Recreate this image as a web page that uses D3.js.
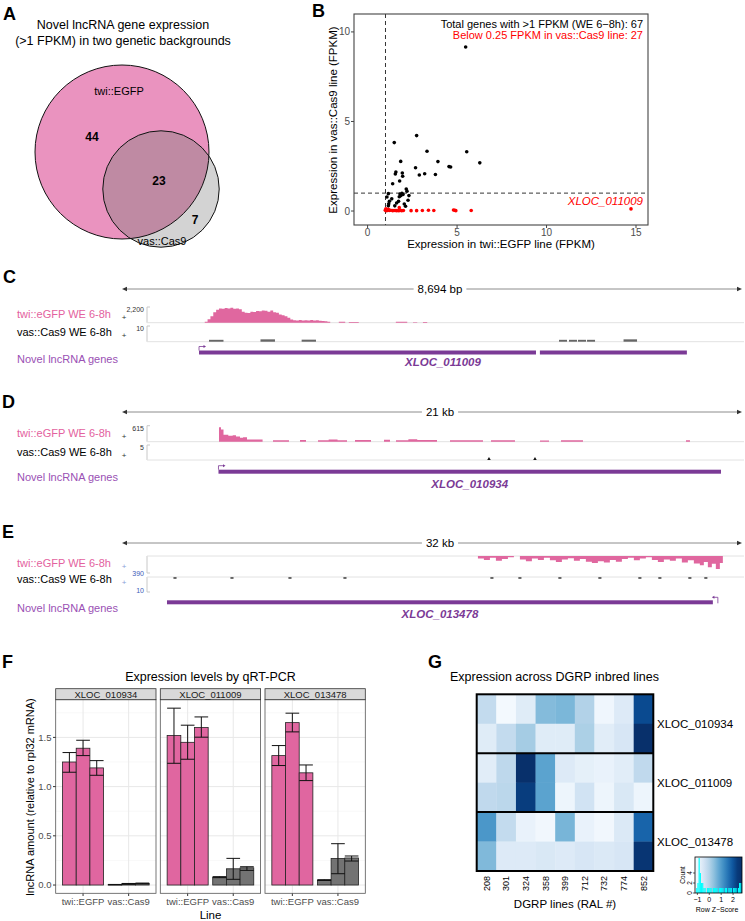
<!DOCTYPE html>
<html><head><meta charset="utf-8">
<script src="https://cdn.jsdelivr.net/npm/d3@7/dist/d3.min.js"></script>
<style>
html,body{margin:0;padding:0;background:#fff;}
svg{display:block;font-family:"Liberation Sans",Arial,Helvetica,sans-serif;}
</style></head><body>
<svg id="fig" width="745" height="921" xmlns="http://www.w3.org/2000/svg"></svg>
<script>
// ================= DATA =================
// A: Venn diagram
const vennLabels = ["twi::EGFP", "vas::Cas9"];
const vennOnlyTwi = 44, vennBoth = 23, vennOnlyVas = 7;
const vennTitle = ["Novel lncRNA gene expression", "(>1 FPKM) in two genetic backgrounds"];

// B: scatter (FPKM)
const blackX = [5.48,2.74,1.49,3.32,5.54,6.27,3.93,1.85,4.55,4.64,2.68,1.58,1.55,1.94,1.96,2.89,3.19,3.79,1.79,1.40,2.16,2.20,1.16,1.35,1.08,1.81,1.86,1.92,1.77,2.31,1.73,2.26,1.18,1.16,2.05,2.12,1.52,1.98,1.22,1.62];
const blackY = [9.16,4.21,3.82,3.34,3.31,2.69,2.76,2.77,2.48,2.46,2.42,2.18,2.07,2.12,1.94,2.01,2.08,2.04,1.68,1.52,1.23,1.11,0.97,0.68,0.78,0.95,0.86,0.99,0.80,0.86,0.54,0.60,0.41,0.29,0.39,0.27,0.29,0.92,0.55,0.45];
const redX = [0.99,1.02,1.04,1.07,1.10,1.16,1.21,1.29,1.40,1.48,1.55,1.63,1.74,1.77,1.81,1.91,2.00,2.43,2.74,3.06,3.40,3.70,4.80,4.87,4.93,5.79,14.72];
const redY = [0.05,0.12,0.02,0.08,0.03,0.10,0.03,0.04,0.02,0.03,0.03,0.02,0.02,0.19,0.03,0.02,0.03,0.02,0.02,0.03,0.04,0.03,0.06,0.04,0.02,0.03,0.12];
const bAnnot = ["Total genes with >1 FPKM (WE 6\u22128h): 67", "Below 0.25 FPKM in vas::Cas9 line: 27"];
const bHighlight = "XLOC_011009";
const bXTicks = [0, 5, 10, 15];
const bYTicks = [0, 5, 10];
const bThreshold = 1;
const bXTitle = "Expression in twi::EGFP line (FPKM)";
const bYTitle = "Expression in vas::Cas9 line (FPKM)";

// Track labels
const trackNames = ["twi::eGFP WE 6-8h", "vas::Cas9 WE 6-8h", "Novel lncRNA genes"];

// C: XLOC_011009 locus
const cSpan = 8694, cSpanLabel = "8,694 bp";
const cTwiMax = 2200, cVasMax = 10, cTwiMaxLabel = "2,200", cVasMaxLabel = "10";
const cTwiPos = [1120,1160,1200,1240,1280,1320,1360,1400,1440,1480,1520,1560,1600,1640,1680,1720,1760,1800,1840,1880,1920,1960,2000,2040,2080,2120,2160,2200,2240,2280,2320,2360,2400,2440,2480,2520,2560,2600,2640,2680,2720,2760,2800,2840,2880,2920,3040,3130,3180,3320,3840,4000,4080,4140,4220,4280];
const cTwiVal = [0,150,500,900,1450,1800,2000,1950,2050,1980,2080,1950,2000,1900,1550,1400,1350,1550,1500,1650,1600,1700,1680,1550,1700,1450,1400,1150,1050,900,700,450,350,300,380,300,350,320,380,300,330,280,250,200,120,0,150,0,100,0,150,0,80,0,90,0];
const cVasStart = [1220,1942,2519,6128,6268,6394,6521,7033];
const cVasEnd   = [1423,2145,2720,6240,6380,6507,6633,7222];
const cVasVal   = [1.2,1.5,1.3,1.2,1.2,1.2,1.2,1.5];
const cExons = [[1080,5805],[5860,7921]];
const cGene = "XLOC_011009";

// D: XLOC_010934 locus
const dSpan = 21000, dSpanLabel = "21 kb";
const dTwiMax = 615, dVasMax = 5, dTwiMaxLabel = "615", dVasMaxLabel = "5";
const dTwiPos = [3260,3285,3353,3438,3600,3750,3861,3997,4100,4234,4762,5114,5656,6029,6232,6639,7000,7300,7621,7892,8434,8874,9077,9280,9700,10000,10669,11109,12227,12498,13311,14158,14463,14869,15614,19103,19238];
const dTwiVal = [0,560,470,270,230,250,200,150,170,80,0,60,0,65,0,60,80,55,0,65,0,75,0,60,90,65,0,55,0,60,0,50,0,55,0,55,0];
const dVasPos = [12430,13988];
const dVasVal = [1,1];
const dExons = [[3268,20288]];
const dGene = "XLOC_010934";

// E: XLOC_013478 locus (minus strand)
const eSpan = 32000, eSpanLabel = "32 kb";
const eTwiMax = 390, eVasMax = 10, eTwiMaxLabel = "390", eVasMaxLabel = "10";
const eTwiPos = [18370,18679,18989,19298,19608,19918,20227,20537,20846,21156,21466,21775,22085,22394,22704,23014,23323,23633,23942,24252,24562,24871,25181,25490,25800,26110,26419,26729,27038,27348,27658,27967,28277,28586,28896,29206,29515,29825,30031,30238,30444,30650,30857,31012];
const eTwiVal = [60,90,40,110,70,30,0,80,120,60,90,40,100,140,80,50,110,70,130,160,120,150,90,130,70,40,100,60,30,90,140,80,110,60,150,100,170,210,140,260,180,300,160,0];
const eVasPos = [2735,5676,8669,11507,19092,20537,22601,24665,26729,27761,29309,30134];
const eVasVal = [1.3,1.3,1.3,1.3,1.3,1.3,1.3,1.3,1.3,1.3,1.3,1.3];
const eExons = [[2322,30496]];
const eGene = "XLOC_013478";

// F: qRT-PCR
const qGenes = ["XLOC_010934", "XLOC_011009", "XLOC_013478"];
const qLines = ["twi::EGFP", "vas::Cas9"];
const qMean = [
  [[1.25,1.39,1.19],[0.004,0.012,0.016]],
  [[1.52,1.45,1.60],[0.08,0.165,0.175]],
  [[1.315,1.65,1.14],[0.05,0.27,0.275]]
];
const qLow = [
  [[1.146,1.315,1.115],[0.002,0.008,0.012]],
  [[1.237,1.278,1.502],[0.075,0.058,0.149]],
  [[1.214,1.556,1.061],[0.046,0.115,0.244]]
];
const qHigh = [
  [[1.346,1.471,1.264],[0.006,0.016,0.020]],
  [[1.797,1.624,1.708],[0.085,0.271,0.186]],
  [[1.417,1.746,1.220],[0.054,0.420,0.295]]
];
const fYTicks = [0, 0.5, 1.0, 1.5];
const fYTickLabels = ["0.0", "0.5", "1.0", "1.5"];
const fYMinor = [0.25, 0.75, 1.25, 1.75];
const fTitle = "Expression levels by qRT-PCR";
const fXTitle = "Line";
const fYTitle = "lncRNA amount (relative to rpl32 mRNA)";

// G: heatmap (row z-scores)
const gLines = ["208","301","324","358","399","712","732","774","852"];
const gGenes = ["XLOC_010934","XLOC_011009","XLOC_013478"];
const gZ = [
  [-0.20,-1.03,-0.67, 0.48, 0.56, 0.02,-0.96,-0.63, 2.14],
  [-0.67,-0.20, 0.16,-0.67,-0.67, 0.09,-0.70,-0.52, 2.50],
  [-0.70,-0.13, 2.50, 0.88,-0.63,-0.78,-0.85,-0.70,-0.16],
  [-0.16,-0.09, 2.32, 0.88,-0.92,-0.42,-0.92,-0.56,-0.92],
  [ 1.06,-0.20,-0.85,-0.99, 0.59,-0.85,-0.99,-0.60, 1.78],
  [ 0.52,-0.63,-0.63,-0.56,-0.63,-0.52,-0.60,-0.52, 2.43]
];
const gTitle = "Expression across DGRP inbred lines";
const gXTitle = "DGRP lines (RAL #)";
const keyHistX0 = [-1.2,-1.1,-1.0,-0.9,-0.8,-0.7,-0.6,-0.5,-0.4,-0.3,-0.2,-0.1,0.0,0.1,0.2,0.3,0.4,0.5,0.6,0.7,0.8,0.9,1.0,1.1,1.2,1.3,1.4,1.5,1.6,1.7,1.8,1.9,2.0,2.1,2.2,2.3,2.4,2.5,2.6];
const keyHistCount = [0,1,2,7,4,2,2,1,1,0,1,1,1,1,0,1,1,1,1,0,1,1,1,1,0,1,1,0,1,1,1,0,1,1,1,0,1,2,2];
const keyXTicks = [-1, 0, 1, 2];
const keyYTicks = [0, 2, 4];

// ================= DRAWING =================
const svg = d3.select("#fig");
function txt(g, x, y, s, o = {}) {
  const t = g.append("text").attr("x", x).attr("y", y).text(s)
    .attr("font-size", o.size || 11).attr("fill", o.fill || "#000")
    .attr("text-anchor", o.anchor || "start");
  if (o.weight) t.attr("font-weight", o.weight);
  if (o.style) t.attr("font-style", o.style);
  if (o.rotate != null) t.attr("transform", `rotate(${o.rotate},${x},${y})`);
  return t;
}
// panel letters
[["A",3,20],["B",312,17],["C",3,283],["D",2,408],["E",2,538],["F",2,668],["G",428,668]]
  .forEach(([l,x,y]) => txt(svg, x, y, l, {size: 18, weight: "bold"}));

// ---------- A ----------
{
  const g = svg.append("g");
  txt(g, 123, 29, vennTitle[0], {size: 12.5, anchor: "middle"});
  txt(g, 123, 45, vennTitle[1], {size: 12.5, anchor: "middle"});
  const totTwi = vennOnlyTwi + vennBoth, totVas = vennOnlyVas + vennBoth;
  const r = d3.scaleSqrt().domain([0, totTwi]).range([0, 87]);
  const cA = {x: 122, y: 152, r: r(totTwi)}, cB = {x: 161, y: 189, r: r(totVas)};
  svg.append("defs").append("clipPath").attr("id", "clipA")
    .append("circle").attr("cx", cA.x).attr("cy", cA.y).attr("r", cA.r);
  g.append("circle").attr("cx", cA.x).attr("cy", cA.y).attr("r", cA.r).attr("fill", "#ea93bf");
  g.append("circle").attr("cx", cB.x).attr("cy", cB.y).attr("r", cB.r).attr("fill", "#d3d3d3");
  g.append("circle").attr("cx", cB.x).attr("cy", cB.y).attr("r", cB.r).attr("fill", "#bf8aa3").attr("clip-path", "url(#clipA)");
  [cA, cB].forEach(c => g.append("circle").attr("cx", c.x).attr("cy", c.y).attr("r", c.r)
    .attr("fill", "none").attr("stroke", "#111").attr("stroke-width", 1));
  txt(g, 119, 95, vennLabels[0], {size: 11, anchor: "middle"});
  txt(g, 162, 245, vennLabels[1], {size: 11, anchor: "middle"});
  txt(g, 92, 141, vennOnlyTwi, {size: 12, anchor: "middle", weight: "bold"});
  txt(g, 159, 185, vennBoth, {size: 12, anchor: "middle", weight: "bold"});
  txt(g, 195, 224, vennOnlyVas, {size: 12, anchor: "middle", weight: "bold"});
}

// ---------- B ----------
{
  const g = svg.append("g");
  const x = d3.scaleLinear().domain([-0.76, 15.67]).range([354, 648]);
  const y = d3.scaleLinear().domain([-0.78, 11.0]).range([225, 14]);
  const dash = "4,3";
  g.append("line").attr("x1", x(bThreshold)).attr("x2", x(bThreshold)).attr("y1", 14).attr("y2", 225)
    .attr("stroke", "#000").attr("stroke-width", 0.8).attr("stroke-dasharray", dash);
  g.append("line").attr("x1", 354).attr("x2", 648).attr("y1", y(bThreshold)).attr("y2", y(bThreshold))
    .attr("stroke", "#000").attr("stroke-width", 0.8).attr("stroke-dasharray", dash);
  g.selectAll(".bk").data(blackX.map((v, i) => [v, blackY[i]])).join("circle")
    .attr("cx", d => x(d[0])).attr("cy", d => y(d[1])).attr("r", 1.8).attr("fill", "#000");
  g.selectAll(".rd").data(redX.map((v, i) => [v, redY[i]])).join("circle")
    .attr("cx", d => x(d[0])).attr("cy", d => y(d[1])).attr("r", 1.8).attr("fill", "#ff0000");
  g.append("rect").attr("x", 354).attr("y", 14).attr("width", 294).attr("height", 211)
    .attr("fill", "none").attr("stroke", "#444").attr("stroke-width", 1.1);
  bXTicks.forEach(t => {
    g.append("line").attr("x1", x(t)).attr("x2", x(t)).attr("y1", 225).attr("y2", 228).attr("stroke", "#444");
    txt(g, x(t), 236, t, {size: 10, anchor: "middle", fill: "#4d4d4d"});
  });
  bYTicks.forEach(t => {
    g.append("line").attr("x1", 351).attr("x2", 354).attr("y1", y(t)).attr("y2", y(t)).attr("stroke", "#444");
    txt(g, 350, y(t) + 3.5, t, {size: 10, anchor: "end", fill: "#4d4d4d"});
  });
  txt(g, 643, 28, bAnnot[0], {size: 11, anchor: "end"});
  txt(g, 643, 39, bAnnot[1], {size: 11, anchor: "end", fill: "#ff0000"});
  txt(g, 643, 205, bHighlight, {size: 11.5, anchor: "end", fill: "#ff0000", style: "italic"});
  txt(g, 501, 248, bXTitle, {size: 11.5, anchor: "middle"});
  txt(g, 337, 120, bYTitle, {size: 11.5, anchor: "middle", rotate: -90});
}

// ---------- Genome tracks C, D, E ----------
const PINK_TXT = "#e3619e", PINK = "#e0679f", PURPLE = "#7b3a96", PURPLE_TXT = "#9a50b4";
function scaleBar(xs, span, y, label) {
  const g = svg.append("g");
  const x0 = xs(0), x1 = xs(span), cx = 440;
  const t = txt(g, cx, y + 4, label, {size: 11.5, anchor: "middle"});
  const w = t.node().getComputedTextLength();
  g.append("line").attr("x1", x0 + 3).attr("x2", cx - w / 2 - 4).attr("y1", y).attr("y2", y).attr("stroke", "#8c8c8c");
  g.append("line").attr("x1", cx + w / 2 + 4).attr("x2", x1 - 3).attr("y1", y).attr("y2", y).attr("stroke", "#8c8c8c");
  g.append("path").attr("d", `M${x0},${y} l5,-2.2 v4.4 z`).attr("fill", "#333");
  g.append("path").attr("d", `M${x1},${y} l-5,-2.2 v4.4 z`).attr("fill", "#333");
}
function trackFrame(top, bottom, invert, name, nameColor, nameY, rangeLabel, rangeY, rangeColor, plusColor) {
  const g = svg.append("g");
  txt(g, 17, nameY, name, {size: 11, fill: nameColor});
  txt(g, 124, nameY + 2, "+", {size: 8, anchor: "middle", fill: plusColor || "#333"});
  txt(g, 144, rangeY, rangeLabel, {size: 7, anchor: "end", fill: rangeColor || "#333"});
  g.append("line").attr("x1", 147).attr("x2", 147).attr("y1", top).attr("y2", bottom).attr("stroke", "#c8c8c8");
  const base = invert ? top : bottom;
  g.append("line").attr("x1", 147).attr("x2", 744).attr("y1", base).attr("y2", base).attr("stroke", "#e2e2e2");
  const edge = invert ? bottom : top;
  g.append("line").attr("x1", 147).attr("x2", 150).attr("y1", edge).attr("y2", edge).attr("stroke", "#c8c8c8");
}
function coverage(xs, pos, val, max, top, bottom, invert, color) {
  const ys = d3.scaleLinear().domain([0, max]).range(invert ? [top, bottom] : [bottom, top]);
  const base = invert ? top : bottom;
  const pts = pos.map((p, i) => [p, val[i]]);
  svg.append("path").datum(pts)
    .attr("d", d3.area().x(d => xs(d[0])).y0(base).y1(d => ys(d[1])).curve(d3.curveStepAfter))
    .attr("fill", color);
}
function geneModel(xs, exons, y, name, labelY, strand) {
  const g = svg.append("g");
  exons.forEach(e => g.append("rect").attr("x", xs(e[0])).attr("y", y - 2).attr("width", xs(e[1]) - xs(e[0]))
    .attr("height", 4).attr("fill", PURPLE));
  if (strand === "+") {
    const sx = xs(exons[0][0]);
    g.append("path").attr("d", `M${sx},${y - 2} V${y - 6} H${sx + 5}`).attr("fill", "none").attr("stroke", PURPLE).attr("stroke-width", 0.8);
    g.append("path").attr("d", `M${sx + 7},${y - 6} l-2.5,-1.5 v3 z`).attr("fill", PURPLE);
  } else {
    const ex = xs(exons[exons.length - 1][1]) + 5;
    g.append("path").attr("d", `M${ex},${y + 1} V${y - 5} H${ex - 4}`).attr("fill", "none").attr("stroke", PURPLE).attr("stroke-width", 0.8);
    g.append("path").attr("d", `M${ex - 6},${y - 5} l2.5,-1.5 v3 z`).attr("fill", PURPLE);
  }
  const mid = (xs(exons[0][0]) + xs(exons[exons.length - 1][1])) / 2;
  txt(g, mid, labelY, name, {size: 11.5, anchor: "middle", weight: "bold", style: "italic", fill: PURPLE});
}
// C
{
  const xs = d3.scaleLinear().domain([0, cSpan]).range([122, 742]);
  scaleBar(xs, cSpan, 289, cSpanLabel);
  trackFrame(307, 322.7, false, trackNames[0], PINK_TXT, 317.5, cTwiMaxLabel, 312, "#333");
  coverage(xs, cTwiPos, cTwiVal, cTwiMax, 307, 322.7, false, PINK);
  trackFrame(326, 341.7, false, trackNames[1], "#000", 336, cVasMaxLabel, 331, "#333");
  const ys = d3.scaleLinear().domain([0, cVasMax]).range([341.7, 326]);
  svg.selectAll(".cv").data(cVasStart.map((s, i) => [s, cVasEnd[i], cVasVal[i]])).join("rect")
    .attr("x", d => xs(d[0])).attr("width", d => xs(d[1]) - xs(d[0]))
    .attr("y", d => ys(d[2])).attr("height", d => 341.7 - ys(d[2])).attr("fill", "#666");
  txt(svg, 17, 362.5, trackNames[2], {size: 11, fill: PURPLE_TXT});
  geneModel(xs, cExons, 352.5, cGene, 366, "+");
}
// D
{
  const xs = d3.scaleLinear().domain([0, dSpan]).range([122, 742]);
  scaleBar(xs, dSpan, 412, dSpanLabel);
  trackFrame(425.7, 441.7, false, trackNames[0], PINK_TXT, 437.3, dTwiMaxLabel, 431, "#333");
  coverage(xs, dTwiPos, dTwiVal, dTwiMax, 425.7, 441.7, false, PINK);
  trackFrame(445, 460, false, trackNames[1], "#000", 455.7, dVasMaxLabel, 450, "#333");
  const ys = d3.scaleLinear().domain([0, dVasMax]).range([460, 445]);
  dVasPos.forEach((p, i) => {
    svg.append("path").datum([[p - 60, 0], [p, dVasVal[i]], [p + 60, 0]])
      .attr("d", d3.area().x(d => xs(d[0])).y0(460).y1(d => ys(d[1])))
      .attr("fill", "#111");
  });
  txt(svg, 17, 481.3, trackNames[2], {size: 11, fill: PURPLE_TXT});
  geneModel(xs, dExons, 471.7, dGene, 487.5, "+");
}
// E
{
  const xs = d3.scaleLinear().domain([0, eSpan]).range([122, 742]);
  scaleBar(xs, eSpan, 543, eSpanLabel);
  const BLUE = "#3d5cb8";
  trackFrame(556, 573, true, trackNames[0], PINK_TXT, 567, eTwiMaxLabel, 576, BLUE, "#8aa0d8");
  coverage(xs, eTwiPos, eTwiVal, eTwiMax, 556, 573, true, PINK);
  trackFrame(577, 592, true, trackNames[1], "#000", 583, eVasMaxLabel, 593, BLUE, "#8aa0d8");
  const ys = d3.scaleLinear().domain([0, eVasMax]).range([577, 592]);
  svg.selectAll(".ev").data(eVasPos.map((p, i) => [p, eVasVal[i]])).join("rect")
    .attr("x", d => xs(d[0] - 80)).attr("width", d => xs(d[0] + 80) - xs(d[0] - 80))
    .attr("y", 577).attr("height", d => ys(d[1]) - 577).attr("fill", "#666");
  txt(svg, 17, 611.7, trackNames[2], {size: 11, fill: PURPLE_TXT});
  geneModel(xs, eExons, 602.3, eGene, 617.5, "-");
}

// ---------- F ----------
{
  const g = svg.append("g");
  const y = d3.scaleLinear().domain([-0.084, 1.883]).range([893.3, 699.7]);
  const facetLeft = [55.7, 160.3, 265], facetW = 100.3;
  const colors = ["#e066a0", "#737373"];
  qGenes.forEach((gene, gi) => {
    const L = facetLeft[gi];
    const x = d3.scaleLinear().domain([0.4, 2.6]).range([L, L + facetW]);
    const bw = x(1.3) - x(1);
    fYMinor.forEach(t => g.append("line").attr("x1", L).attr("x2", L + facetW).attr("y1", y(t)).attr("y2", y(t)).attr("stroke", "#f3f3f3").attr("stroke-width", 0.6));
    fYTicks.forEach(t => g.append("line").attr("x1", L).attr("x2", L + facetW).attr("y1", y(t)).attr("y2", y(t)).attr("stroke", "#e8e8e8").attr("stroke-width", 1));
    qLines.forEach((ln, li) => {
      g.append("line").attr("x1", x(li + 1)).attr("x2", x(li + 1)).attr("y1", 699.7).attr("y2", 893.3).attr("stroke", "#e8e8e8").attr("stroke-width", 1);
    });
    qLines.forEach((ln, li) => {
      qMean[gi][li].forEach((m, ri) => {
        const cx = x(li + 1) + (ri - 1) * bw;
        g.append("rect").attr("x", cx - bw / 2).attr("width", bw).attr("y", y(m)).attr("height", y(0) - y(m))
          .attr("fill", colors[li]).attr("stroke", "#222").attr("stroke-width", 0.8);
      });
      qMean[gi][li].forEach((m, ri) => {
        const cx = x(li + 1) + (ri - 1) * bw;
        const lo = y(qLow[gi][li][ri]), hi = y(qHigh[gi][li][ri]);
        g.append("path").attr("d", `M${cx - bw / 2},${hi} H${cx + bw / 2} M${cx},${hi} V${lo} M${cx - bw / 2},${lo} H${cx + bw / 2}`)
          .attr("stroke", "#111").attr("stroke-width", 1).attr("fill", "none");
      });
      g.append("line").attr("x1", x(li + 1)).attr("x2", x(li + 1)).attr("y1", 893.3).attr("y2", 896).attr("stroke", "#333");
      txt(g, x(li + 1), 904.5, ln, {size: 9.5, anchor: "middle", fill: "#4d4d4d"});
    });
    g.append("rect").attr("x", L).attr("y", 699.7).attr("width", facetW).attr("height", 193.6)
      .attr("fill", "none").attr("stroke", "#555").attr("stroke-width", 0.8);
    g.append("rect").attr("x", L).attr("y", 688.7).attr("width", facetW).attr("height", 11)
      .attr("fill", "#d9d9d9").attr("stroke", "#333").attr("stroke-width", 0.8);
    txt(g, L + facetW / 2, 697.8, gene, {size: 9.5, anchor: "middle", fill: "#1a1a1a"});
  });
  fYTicks.forEach((t, i) => {
    g.append("line").attr("x1", 53).attr("x2", 55.7).attr("y1", y(t)).attr("y2", y(t)).attr("stroke", "#333");
    txt(g, 51.5, y(t) + 3.3, fYTickLabels[i], {size: 9.5, anchor: "end", fill: "#4d4d4d"});
  });
  txt(g, 210.5, 681, fTitle, {size: 12.5, anchor: "middle"});
  txt(g, 210.5, 919, fXTitle, {size: 11.5, anchor: "middle"});
  txt(g, 34, 797, fYTitle, {size: 11, anchor: "middle", rotate: -90});
}

// ---------- G ----------
{
  const g = svg.append("g");
  const x0 = 476.7, x1 = 653.3, y0 = 694.3, y1 = 871;
  const x = d3.scaleBand().domain(gLines).range([x0, x1]);
  const y = d3.scaleBand().domain(d3.range(gZ.length)).range([y0, y1]);
  const col = d3.scaleSequential(d3.interpolateBlues).domain([-1.1, 2.5]).clamp(true);
  gZ.forEach((row, ri) => row.forEach((z, ci) => {
    g.append("rect").attr("x", x(gLines[ci])).attr("y", y(ri)).attr("width", x.bandwidth() + 0.3).attr("height", y.bandwidth() + 0.3)
      .attr("fill", col(z));
  }));
  [2, 4].forEach(r => g.append("line").attr("x1", x0).attr("x2", x1).attr("y1", y(r)).attr("y2", y(r)).attr("stroke", "#000").attr("stroke-width", 2));
  g.append("rect").attr("x", x0).attr("y", y0).attr("width", x1 - x0).attr("height", y1 - y0)
    .attr("fill", "none").attr("stroke", "#000").attr("stroke-width", 2);
  gGenes.forEach((gn, i) => txt(g, 657, y(i * 2) + y.bandwidth() + 4.5, gn, {size: 11.5}));
  gLines.forEach(l => txt(g, x(l) + x.bandwidth() / 2 + 3.2, 876, l, {size: 9, anchor: "end", rotate: -90}));
  txt(g, 565, 908, gXTitle, {size: 11.5, anchor: "middle"});
  txt(g, 450, 681, gTitle, {size: 12.5});
  // colour key
  const kx = d3.scaleLinear().domain([-1.2, 2.75]).range([695, 742]);
  const ky = d3.scaleLinear().domain([0, 7.2]).range([893, 857]);
  const grad = svg.select("defs").append("linearGradient").attr("id", "keyGrad");
  d3.range(0, 1.0001, 0.1).forEach(t => grad.append("stop").attr("offset", t)
    .attr("stop-color", col(kx.invert(695 + t * 47))));
  g.append("rect").attr("x", 695).attr("y", 857).attr("width", 47).attr("height", 36).attr("fill", "url(#keyGrad)");
  keyHistX0.forEach((b, i) => {
    if (keyHistCount[i] > 0)
      g.append("rect").attr("x", kx(b)).attr("width", kx(b + 0.1) - kx(b)).attr("y", ky(keyHistCount[i]))
        .attr("height", ky(0) - ky(keyHistCount[i])).attr("fill", "#00ffff");
  });
  g.append("rect").attr("x", 695).attr("y", 857).attr("width", 47).attr("height", 36)
    .attr("fill", "none").attr("stroke", "#000").attr("stroke-width", 0.8);
  keyXTicks.forEach(t => {
    g.append("line").attr("x1", kx(t)).attr("x2", kx(t)).attr("y1", 893).attr("y2", 895).attr("stroke", "#000").attr("stroke-width", 0.6);
    txt(g, kx(t), 902, t === -1 ? "\u22121" : t, {size: 7, anchor: "middle"});
  });
  keyYTicks.forEach(t => {
    g.append("line").attr("x1", 693).attr("x2", 695).attr("y1", ky(t)).attr("y2", ky(t)).attr("stroke", "#000").attr("stroke-width", 0.6);
    txt(g, 691.5, ky(t), t, {size: 6.5, anchor: "middle", rotate: -90});
  });
  txt(g, 685, 875, "Count", {size: 6.5, anchor: "middle", rotate: -90});
  txt(g, 717, 912, "Row Z\u2212Score", {size: 7, anchor: "middle"});
}
</script>
</body></html>
